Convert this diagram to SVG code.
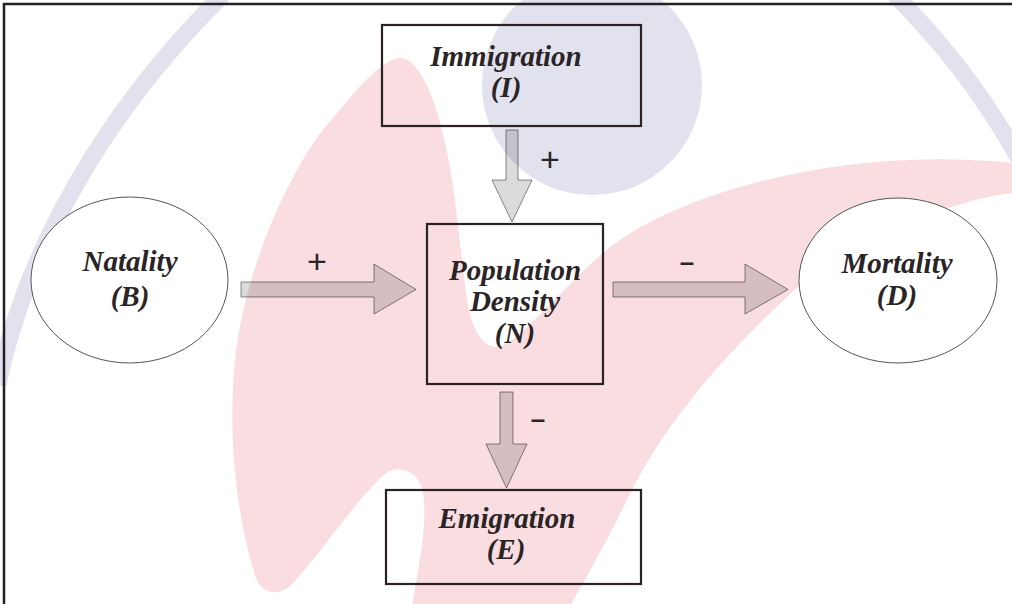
<svg xmlns="http://www.w3.org/2000/svg" width="1012" height="604" viewBox="0 0 1012 604">
<style>
.lbl{font-family:"Liberation Serif","Times New Roman",serif;font-weight:bold;font-style:italic;font-size:29px;fill:#2a2426;text-anchor:middle}
.sign{font-family:"Liberation Sans",Arial,sans-serif;font-size:34px;fill:#2a2426;text-anchor:middle}
.minus{font-family:"Liberation Sans",Arial,sans-serif;font-weight:bold;font-size:26px;fill:#2a2426;text-anchor:middle}
.box{fill:none;stroke:#2a2224;stroke-width:2.2}
.ell{fill:#ffffff;stroke:#555555;stroke-width:1}
.arrow{fill:#000000;fill-opacity:0.14;stroke:#000000;stroke-opacity:0.45;stroke-width:1}
</style>
<rect x="0" y="0" width="1012" height="604" fill="#ffffff"/>
<g id="watermark">
<path d="M 228,-10 C 135,80 32,220 -2,385" fill="none" stroke="#e2e2ef" stroke-width="17"/>
<path d="M 890,-10 C 940,40 985,95 1025,170" fill="none" stroke="#e2e2ef" stroke-width="17"/>
<circle cx="592" cy="85" r="110" fill="#e2e2ef"/>
<path fill="#f9dde0" d="M 400,58 C 422,58 440,110 450,167 C 458,215 462,265 467,300 C 472,330 482,347 497,347 C 515,347 560,290 603,253 C 670,195 840,145 1012,163 L 1012,193 C 950,200 840,245 787,297 C 730,350 665,420 627,500 C 605,545 585,580 570,606 L 412,606 C 420,560 432,500 418,480 C 410,468 395,466 385,474 C 355,500 320,555 293,583 C 283,595 262,598 255,575 C 238,520 226,440 236,350 C 250,250 300,150 340,110 C 360,85 385,58 400,58 Z"/>
</g>
<g id="frame">
<path d="M 4,605 L 4,4 L 1013,4" fill="none" stroke="#222222" stroke-width="2.5"/>
</g>
<g id="natality">
<ellipse class="ell" cx="129.5" cy="280" rx="98.5" ry="83"/>
<text class="lbl" x="130" y="271">Natality</text>
<text class="lbl" x="130" y="306">(B)</text>
</g>
<g id="mortality">
<ellipse class="ell" cx="898" cy="280.5" rx="99" ry="82.5"/>
<text class="lbl" x="897" y="273">Mortality</text>
<text class="lbl" x="897" y="305">(D)</text>
</g>
<g id="immigration">
<rect class="box" x="382" y="25" width="259" height="101"/>
<text class="lbl" x="506" y="66">Immigration</text>
<text class="lbl" x="506" y="97">(I)</text>
</g>
<g id="population">
<rect class="box" x="427" y="224" width="176" height="160"/>
<text class="lbl" x="515" y="280">Population</text>
<text class="lbl" x="515" y="311">Density</text>
<text class="lbl" x="515" y="343">(N)</text>
</g>
<g id="emigration">
<rect class="box" x="386" y="490" width="255" height="94"/>
<text class="lbl" x="507" y="528">Emigration</text>
<text class="lbl" x="506" y="559">(E)</text>
</g>
<g id="connectors">
<polygon class="arrow" points="241,282 374,282 374,264 416,289.5 374,314 374,297 241,297"/>
<polygon class="arrow" points="613,282 745,282 745,264 788,289.5 745,314 745,297 613,297"/>
<polygon class="arrow" points="506,130 518,130 518,180 532,180 512,222 492,180 506,180"/>
<polygon class="arrow" points="500,392 513,392 513,444 527,444 506.5,488 486,444 500,444"/>
<text class="sign" x="317" y="273">+</text>
<text class="sign" x="550" y="171">+</text>
<text class="minus" x="687" y="271">–</text>
<text class="minus" x="538" y="428">–</text>
</g>
</svg>
